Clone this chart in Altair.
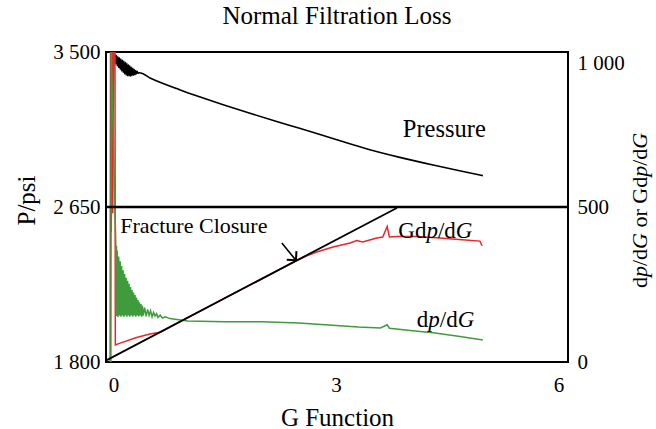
import altair as alt
import pandas as pd

FONT = "Liberation Serif"

# ---- data ---------------------------------------------------------------
# Bottom-hole pressure during the fall-off (psi) against G-function time
pressure_g = [-0.03, -0.02, -0.01, 0.00, 0.005, 0.01, 0.015, 0.02, 0.025, 0.03,
              0.04, 0.05, 0.06, 0.07, 0.08, 0.09, 0.10, 0.11, 0.12, 0.13,
              0.14, 0.15, 0.16, 0.17, 0.18, 0.19, 0.20, 0.21, 0.22, 0.23,
              0.24, 0.25, 0.26, 0.27, 0.28, 0.29, 0.30, 0.31, 0.32, 0.33,
              0.35, 0.5, 0.9, 1.17, 1.5, 1.84, 2.2,
              2.52, 3.0, 3.42, 3.86, 4.31, 4.65, 4.98]
pressure_psi = [3500, 3470, 3498, 3455, 3492, 3450, 3488, 3442, 3484, 3436,
                3480, 3425, 3474, 3415, 3468, 3405, 3462, 3396, 3456, 3388,
                3450, 3380, 3444, 3374, 3438, 3370, 3430, 3368, 3424, 3368,
                3416, 3370, 3410, 3373, 3404, 3376, 3398, 3380, 3393, 3384,
                3386, 3356, 3292, 3253, 3208, 3164, 3119,
                3080, 3020, 2968, 2922, 2880, 2850, 2822]

# Superposition derivative G*dp/dG
gdp_g = [-0.045, -0.04, -0.03, -0.02, -0.01, 0.0, 0.01, 0.02, 0.025,
         0.09, 0.3, 0.49, 0.63,
         1.0, 1.5, 2.0, 2.45, 2.6, 2.74, 2.96, 3.19, 3.28, 3.36,
         3.55, 3.63, 3.69, 3.72, 3.82, 4.1, 4.4, 4.7, 4.94, 4.97]
gdp_val = [0, 1000, 420, 1000, 480, 1000, 1000, 1000, 55,
           61, 78, 90, 96,
           143, 206, 268, 325, 342, 355, 371, 384, 392, 387,
           400, 403, 437, 403, 405, 405, 400, 394, 390, 375]

# First derivative dp/dG
dp_g = [-0.035, -0.03, 0.03, 0.035, 0.04, 0.045, 0.05, 0.06, 0.07, 0.08,
        0.09, 0.10, 0.11, 0.12, 0.13, 0.14, 0.15, 0.16, 0.17, 0.18,
        0.19, 0.20, 0.21, 0.22, 0.23, 0.24, 0.25, 0.26, 0.27, 0.28,
        0.29, 0.30, 0.31, 0.32, 0.33, 0.34, 0.35, 0.36, 0.37, 0.38,
        0.39, 0.40, 0.42, 0.44, 0.46, 0.48, 0.50, 0.52, 0.54, 0.56,
        0.58, 0.60, 0.63, 0.66, 0.70, 0.76, 1.0,
        1.5, 2.0, 2.5, 3.0, 3.3, 3.6, 3.69, 3.72, 4.0, 4.31, 4.65, 4.98]
dp_val = [0, 1000, 390, 150, 375, 148, 360, 145, 340, 150,
          325, 146, 310, 150, 296, 145, 284, 150, 272, 146,
          262, 150, 252, 146, 242, 150, 232, 146, 224, 150,
          216, 146, 208, 150, 200, 147, 193, 150, 187, 146,
          181, 150, 175, 147, 170, 150, 165, 146, 160, 148,
          156, 144, 151, 142, 146, 140, 132,
          130, 130, 126, 118, 113, 110, 120, 109, 102, 94, 83, 71]

# Straight line through the early G*dp/dG data
tangent_g = [-0.09, 3.82]
tangent_val = [6, 497]

# Arrow pointing at the closure point
arrow_g = [2.27, 2.46]
arrow_val = [384, 328]

# Tick marks
x_ticks = [0, 3, 6]
p_ticks = [1800, 2650, 3500]
d_ticks = [0, 500, 1000]

# ---- scales / axes ------------------------------------------------------
W, H = 462, 310
x_scale = alt.Scale(domain=[-0.101, 6.128], nice=False, zero=False)
p_scale = alt.Scale(domain=[1800, 3500], nice=False, zero=False)
d_scale = alt.Scale(domain=[0, 1000], nice=False, zero=False)

space_fmt = "replace(format(datum.value, ',d'), ',', ' ')"

common_axis = dict(ticks=False, domain=False, grid=False, labelFont=FONT,
                   labelFontSize=21, labelColor="black", titleFont=FONT,
                   titleFontSize=25, titleFontWeight="normal", titleColor="black")

x_axis = alt.Axis(values=x_ticks, format="d", title="G Function",
                  labelPadding=12, titleBaseline="middle", titleY=55,
                  **common_axis)
p_axis = alt.Axis(orient="left", values=p_ticks, labelExpr=space_fmt,
                  title="P/psi", labelPadding=6, titleAngle=270,
                  titleAlign="center", titleBaseline="middle",
                  titleX=-80, titleY=148, **common_axis)
d_axis = alt.Axis(orient="right", values=d_ticks, labelExpr=space_fmt,
                  title="", labelPadding=9,
                  labelBaseline={"condition": {"test": "datum.value == 1000",
                                               "value": "top"},
                                 "value": "middle"},
                  **common_axis)


def X():
    return alt.X("g:Q", scale=x_scale, axis=x_axis)


def YD():
    return alt.Y("v:Q", scale=d_scale, axis=d_axis)


def frame(g, v):
    return pd.DataFrame({"g": g, "v": v})


# ---- left (pressure) group ---------------------------------------------
pressure = alt.Chart(frame(pressure_g, pressure_psi)).mark_line(
    color="black", strokeWidth=1.6, clip=True, interpolate="monotone"
).encode(x=X(), y=alt.Y("v:Q", scale=p_scale, axis=p_axis), order="g:Q")

# ---- right (derivative) group ------------------------------------------
red = alt.Chart(frame(gdp_g, gdp_val)).mark_line(
    color="#e8262b", strokeWidth=1.5, clip=True
).encode(x=X(), y=YD(), order="g:Q")

green = alt.Chart(frame(dp_g, dp_val)).mark_line(
    color="#3f9b3c", strokeWidth=1.5, clip=True
).encode(x=X(), y=YD(), order="g:Q")

tangent = alt.Chart(frame(tangent_g, tangent_val)).mark_line(
    color="black", strokeWidth=1.8, clip=True
).encode(x=X(), y=YD())

midline = alt.Chart(pd.DataFrame({"v": [500]})).mark_rule(
    color="black", strokeWidth=2.5
).encode(y=YD())

arrow_line = alt.Chart(frame(arrow_g, arrow_val)).mark_line(
    color="black", strokeWidth=1.6
).encode(x=X(), y=YD())

arrow_head = alt.Chart(frame(arrow_g[1:], arrow_val[1:])).mark_point(
    shape="M-1,-1L0,0L1,-1", size=170, angle=318, color="black",
    strokeWidth=2, filled=False, opacity=1
).encode(x=X(), y=YD())


def rich_label(g, v, pieces, size=23):
    """Text made of upright/italic pieces laid out left to right."""
    layers = []
    for txt, dx, style in pieces:
        layers.append(
            alt.Chart(frame([g], [v])).mark_text(
                text=txt, dx=dx * size, align="left", baseline="middle",
                font=FONT, fontSize=size, fontStyle=style, color="black"
            ).encode(x=X(), y=YD())
        )
    return layers


labels = []
labels += rich_label(3.90, 748, [("Pressure", 0, "normal")], size=24.5)
labels += rich_label(0.09, 439, [("Fracture Closure", 0, "normal")], size=22)
labels += rich_label(3.84, 423, [("Gd", 0, "normal"),
                                 ("p", 1.222, "italic"),
                                 ("/d", 1.722, "normal"),
                                 ("G", 2.5, "italic")])
labels += rich_label(4.09, 135, [("d", 0, "normal"),
                                 ("p", 0.5, "italic"),
                                 ("/d", 1.0, "normal"),
                                 ("G", 1.778, "italic")])

# Right-hand axis title, rotated, with italic p and G
ts = 22
title_pieces = [("d", 0, "normal"), ("p", 0.5, "italic"), ("/d", 1.0, "normal"),
                ("G", 1.778, "italic"), ("or Gd", 2.75, "normal"),
                ("p", 5.055, "italic"), ("/d", 5.555, "normal"),
                ("G", 6.333, "italic")]
right_title = [
    alt.Chart(pd.DataFrame({"k": [0]})).mark_text(
        text=txt, dx=off * ts, angle=270, align="left", baseline="middle",
        font=FONT, fontSize=ts, fontStyle=style, color="black"
    ).encode(x=alt.value(W + 72), y=alt.value(236))
    for txt, off, style in title_pieces
]

left_group = alt.layer(pressure)
right_group = alt.layer(red, green, tangent, midline, arrow_line, arrow_head,
                        *labels, *right_title)

chart = alt.layer(left_group, right_group).resolve_scale(
    y="independent"
).properties(
    width=W,
    height=H,
    padding={"left": 106, "top": 52, "right": 88, "bottom": 67},
    autosize=alt.AutoSizeParams(type="none"),
    background="white",
    title=alt.TitleParams(text="Normal Filtration Loss", font=FONT,
                          fontSize=25, fontWeight="normal", color="black",
                          anchor="middle", offset=12),
).configure_view(stroke="black", strokeWidth=2)

chart.save("out.html", embed_options={"renderer": "svg", "actions": False})
